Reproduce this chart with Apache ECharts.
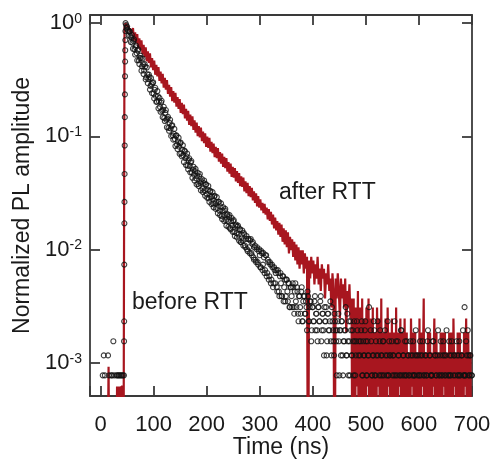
<!DOCTYPE html>
<html>
<head>
<meta charset="utf-8">
<script src="https://cdn.jsdelivr.net/npm/echarts@6/dist/echarts.min.js"></script>
<style>html,body{margin:0;padding:0;background:#fff}#chart{width:493px;height:460px}</style>
</head>
<body>
<div id="chart"></div>
<script>
// ---------------- data ----------------
const timeRange = [-20, 700];          // ns
const ampRange = [5.1e-4, 1.18];       // normalized amplitude (log axis)

// "before RTT" (black circles): photon counts, normalized by the peak count
const blackPeak = 2576;
// t = 0, 2, ..., 42 ns
const blackPreCounts = [0,1,2,3,2,1,1,3,2,1,2,2,4,2,1,2,2,2,2,2,2,2];
// rising edge
const blackRiseTimes = [44.0,44.2,44.4,44.6,44.8,45.0,45.2,45.4,45.6,45.8,46.0,46.2,46.4,46.6,46.8,47.0];
const blackRiseCounts = [2,4,6,19,44,68,120,214,381,605,875,1180,1485,1825,2190,2576];
// even bins: t = 48, 50, ..., 700 ns
const blackEvenStart = 48;
const blackEvenCounts = [
2480,2400,2190,2170,1980,1920,1730,1795,1510,1580,
1400,1475,1210,1265,1265,1070,1118,985,1065,855,
912,826,860,720,745,765,616,664,586,524,
583,525,469,513,434,442,375,417,361,370,
306,340,303,320,263,272,244,261,218,233,
209,224,183,197,175,193,165,171,142,159,
141,152,124,131,118,127,110,116,98,114,
100,103,89,100,86,97,80,87,73,84,
75,76,66,76,66,68,60,68,57,62,
51,57,52,57,47,52,46,50,40,46,
42,46,37,42,36,41,35,39,30,35,
31,36,28,32,26,32,27,31,24,29,
22,27,21,26,20,25,23,18,24,19,
22,17,23,16,20,15,19,14,18,13,
17,16,12,17,11,15,13,10,15,12,
9,14,11,13,8,12,10,13,8,11,
9,12,7,10,8,11,6,9,10,7,
8,11,6,8,9,5,8,6,10,7,
5,8,6,9,4,7,5,8,6,3,
7,5,6,4,8,5,3,6,4,5,
7,2,5,6,3,4,5,8,3,4,
6,2,5,3,4,6,2,4,5,3,
1,4,6,2,3,5,4,2,3,8,
1,4,2,3,5,2,3,6,1,4,
2,3,4,2,5,1,3,2,4,3,
0,2,3,6,2,1,4,3,2,5,
1,3,2,4,2,0,3,2,4,1,
3,2,2,5,3,1,2,4,2,3,
0,2,3,2,4,1,3,2,2,4,
1,3,2,0,5,2,3,1,2,4,
3,2,5,1,2,3,2,4,0,3,
2,1,3,2,4,2,3,1,2,8,
2,3,5,2,3,1,2
];
// odd bins: t = 49, 51, ..., 699 ns
const blackOddStart = 49;
const blackOddCounts = [
2320,2250,2005,2180,1755,2020,1530,1850,1360,1630,
1210,1510,1120,1330,980,1255,915,1120,820,1045,
760,905,667,845,620,774,557,692,519,647,
456,564,425,531,381,470,352,440,310,383,
289,361,260,323,241,300,212,263,199,251,
181,227,172,215,153,190,144,182,132,165,
124,156,111,139,105,133,97,123,94,120,
86,108,83,105,77,97,74,94,68,85,
65,83,61,77,59,75,54,68,52,66,
48,61,46,59,42,53,41,52,39,49,
37,47,34,43,33,42,31,39,30,38,
28,35,27,34,25,32,24,32,23,30,
21,28,20,27,19,26,18,25,17,24,
16,23,15,21,14,20,13,19,12,18,
13,17,11,16,10,16,10,15,9,14,
10,14,9,13,8,12,8,12,7,13,
8,11,6,10,7,12,6,10,7,9,
5,10,6,9,4,8,
6,9,5,7,4,8,6,10,5,7,3,6,8,4,7,5,9,3,6,4,7,5,2,6,4,
5,3,6,2,4,5,3,7,2,4,6,3,5,2,4,3,6,1,4,3,5,2,4,3,6,
2,4,3,1,5,2,3,6,2,4,1,3,2,5,3,2,4,1,3,2,6,2,3,1,4,
3,2,1,4,2,3,0,2,5,2,3,1,2,4,3,2,1,3,2,4,2,3,1,2,3,
2,3,1,4,2,0,3,2,5,1,3,2,2,4,1,3,2,3,0,2,4,2,3,1,2,
3,1,2,4,2,3,0,2,3,1,4,2,3,2,1,3,5,2,2,4,1,3,2,3,2
];
const binStep = 2; // ns

// "after RTT" (red line): counts normalized by the peak count, t = 0, 2, ..., 700 ns
const redPeak = 1620;
const redCounts = [
0,0,0,0,0,0,0,0,1.5,0,
0,0,0,0,0,0,1,0,1,0,
1,1,0,1480,1620,1540,1500,1400,1460,1320,
1380,1465,1133,1342,1081,1299,975,1190,941,1141,
860,1041,814,992,746,914,723,877,659,796,
622,756,567,693,548,664,501,606,475,579,
436,532,420,510,384,463,363,442,332,407,
322,393,297,361,283,346,261,320,255,310,
234,284,223,272,205,252,200,244,185,224,
175,215,163,200,159,194,147,179,141,172,
131,161,128,157,119,145,115,140,106,131,
104,128,97,118,93,114,87,107,85,104,
79,96,76,93,71,87,70,85,65,80,
63,77,59,72,58,70,53,65,51,63,
48,59,47,57,44,53,42,51,39,48,
38,45,36,42,34,41,33,38,30,37,
29,35,27,33,25,31,24,29,22,28,
21,27,19,25,18,24,17,23,15,21,
16,20,14,19,13,18,12,17,11,16,
12,16,10,15,11,14,0,13,9,14,
10,13,8,12,9,14,8,11,7,12,
9,11,6,10,8,12,7,9,5,10,
7,0,9,6,10,7,4,9,6,8,
5,9,3,7,5,8,4,6,0,6,
0,5,1,7,0,5,0,6,0,4,
0,5,1,6,0,4,0,5,0,3,
0,5,1,4,0,6,0,3,0,4,
0,5,1,3,0,4,0,3,0,5,
0,3,1,4,0,3,0,4,0,3,
0,2,0,4,1,3,0,3,0,2,
0,4,0,3,1,6,0,2,0,3,
0,3,0,2,1,4,0,3,0,2,
0,3,0,3,1,3,0,2,0,3,
0,3,0,4,1,2,0,3,0,3,
0,2,0,3,1,4,0,3,0,2,0
];

// Labels
const xTitle = 'Time (ns)';
const yTitle = 'Normalized PL amplitude';
const labelBefore = 'before RTT';
const labelAfter = 'after RTT';

// ---------------- build series data ----------------
const blackData = [];
blackPreCounts.forEach((c, i) => { if (c > 0) blackData.push([i * binStep, c / blackPeak]); });
blackRiseTimes.forEach((t, i) => { blackData.push([t, blackRiseCounts[i] / blackPeak]); });
blackEvenCounts.forEach((c, i) => { if (c > 0) blackData.push([blackEvenStart + i * binStep, c / blackPeak]); });
blackOddCounts.forEach((c, i) => { if (c > 0) blackData.push([blackOddStart + i * binStep, c / blackPeak]); });

// zero counts cannot sit on a log axis: send them below the axis floor (clipped by the grid)
const belowFloor = ampRange[0] / 20;
const redData = redCounts.map((c, i) => [i * binStep, c > 0 ? c / redPeak : belowFloor]);

// ---------------- chart ----------------
const FONT = '"Liberation Sans", Arial, Helvetica, sans-serif';
const INK = '#1a1a1a';
const AXIS = '#3a3a3a';
const RED = '#a8161f';

const axisLine = { show: true, onZero: false, lineStyle: { color: AXIS, width: 1.8 } };
const axisTick = { show: true, inside: true, length: 10, lineStyle: { color: AXIS, width: 1.8 } };

function expLabel(v) {
  const e = Math.log10(v);
  const r = Math.round(e);
  if (Math.abs(e - r) > 1e-6) return '';
  return '{b|10}{s|' + r + '}';
}

const chart = echarts.init(document.getElementById('chart'), null, { renderer: 'canvas' });
chart.setOption({
  animation: false,
  backgroundColor: '#ffffff',
  grid: { left: 90, top: 15, right: 21, bottom: 64, containLabel: false, outerBoundsMode: 'none' },
  xAxis: [
    {
      type: 'value', min: timeRange[0], max: timeRange[1], splitNumber: 7, position: 'bottom',
      axisLine: axisLine, axisTick: axisTick, splitLine: { show: false },
      axisLabel: {
        formatter: v => (v < 0 ? '' : String(v)),
        fontSize: 22, fontFamily: FONT, color: INK, margin: 18
      },
      name: xTitle, nameLocation: 'middle', nameGap: 40, nameMoveOverlap: false,
      nameTextStyle: { fontSize: 23, fontFamily: FONT, color: INK }
    },
    {
      type: 'value', min: timeRange[0], max: timeRange[1], splitNumber: 7, position: 'top',
      axisLine: axisLine, axisTick: axisTick, splitLine: { show: false },
      axisLabel: { show: false }
    }
  ],
  yAxis: [
    {
      type: 'log', logBase: 10, min: ampRange[0], max: ampRange[1], position: 'left',
      axisLine: axisLine, axisTick: axisTick, splitLine: { show: false },
      minorTick: { show: false }, minorSplitLine: { show: false },
      axisLabel: {
        formatter: expLabel, margin: 8,
        rich: {
          b: { fontSize: 22, fontFamily: FONT, color: INK },
          s: { fontSize: 14, fontFamily: FONT, color: INK, verticalAlign: 'top' }
        }
      },
      name: yTitle, nameLocation: 'middle', nameGap: 50, nameRotate: 90,
      nameTextStyle: { fontSize: 23, fontFamily: FONT, color: INK }
    },
    {
      type: 'log', logBase: 10, min: ampRange[0], max: ampRange[1], position: 'right',
      axisLine: axisLine, axisTick: axisTick, splitLine: { show: false },
      axisLabel: { show: false }
    }
  ],
  series: [
    {
      name: labelAfter, type: 'line', xAxisIndex: 0, yAxisIndex: 0,
      data: redData, step: 'middle', showSymbol: false, symbol: 'none',
      lineStyle: { color: RED, width: 2.2 }, clip: true, silent: true, z: 2
    },
    {
      name: labelBefore, type: 'scatter', xAxisIndex: 0, yAxisIndex: 0,
      data: blackData, symbol: 'circle', symbolSize: 5,
      itemStyle: { color: 'rgba(255,255,255,0)', borderColor: '#111111', borderWidth: 1.1 },
      clip: true, silent: true, z: 3
    }
  ],
  graphic: [
    { type: 'text', left: 279, top: 181, silent: true,
      style: { text: labelAfter, font: '23px ' + FONT, fill: INK } },
    { type: 'text', left: 132, top: 291, silent: true,
      style: { text: labelBefore, font: '23px ' + FONT, fill: INK } }
  ]
});
</script>
</body>
</html>
